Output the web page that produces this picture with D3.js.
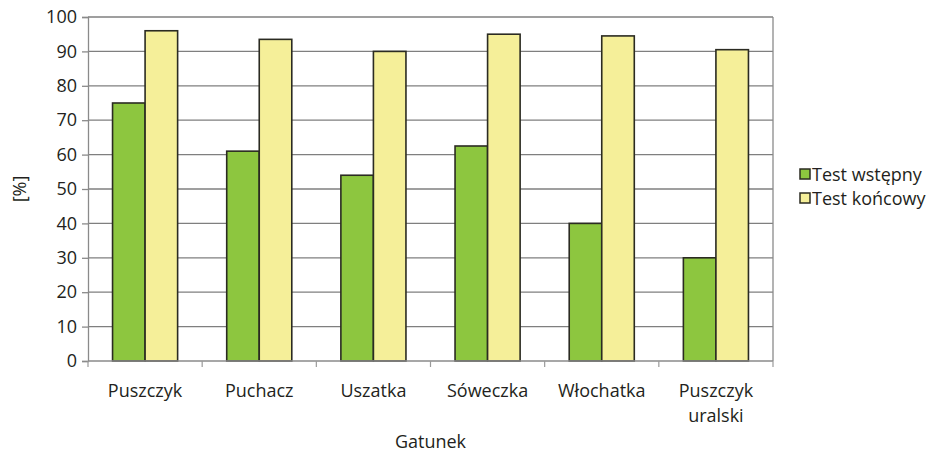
<!DOCTYPE html>
<html>
<head>
<meta charset="utf-8">
<script src="https://cdn.jsdelivr.net/npm/d3@7"></script>
<style>
body { margin: 0; background: #fff; }
text { font-family: "Open Sans", "Noto Sans", sans-serif; fill: #231f20; }
</style>
</head>
<body>
<script>
// species on the x axis
var categories = ["Puszczyk", "Puchacz", "Uszatka", "Sóweczka", "Włochatka", "Puszczyk uralski"];
var seriesNames = ["Test wstępny", "Test końcowy"];
// percent values
var testWstepny = [75, 61, 54, 62.5, 40, 30];
var testKoncowy = [96, 93.5, 90, 95, 94.5, 90.5];
var yTicks = [0, 10, 20, 30, 40, 50, 60, 70, 80, 90, 100];

var colors = ["#8dc63f", "#f5ef99"];
var fs = 18;

var margin = { top: 17, right: 155, bottom: 95, left: 88 },
	width = 928 - margin.left - margin.right,
	height = 456 - margin.top - margin.bottom;

var svg = d3.select("body").append("svg")
	.attr("width", 928)
	.attr("height", 456);

var g = svg.append("g")
	.attr("transform", "translate(" + margin.left + "," + margin.top + ")");

var x0 = d3.scaleBand().domain(categories).range([0, width]).paddingInner(0.43).paddingOuter(0.215);
var x1 = d3.scaleBand().domain(seriesNames).range([0, x0.bandwidth()]);
var y = d3.scaleLinear().domain([0, 100]).range([height, 0]);

// grid lines
g.selectAll(".grid")
	.data(yTicks.filter(function (d) { return d > 0; }))
	.enter().append("line")
	.attr("x1", 0).attr("x2", width)
	.attr("y1", function (d) { return y(d); })
	.attr("y2", function (d) { return y(d); })
	.attr("stroke", "#7f7f7f")
	.attr("stroke-width", 1.3);

// right border
g.append("line")
	.attr("x1", width).attr("x2", width)
	.attr("y1", 0).attr("y2", height)
	.attr("stroke", "#8a8a8a").attr("stroke-width", 1.3);

// bars
var rows = categories.map(function (c, i) { return { cat: c, vals: [testWstepny[i], testKoncowy[i]] }; });
var grp = g.selectAll(".grp")
	.data(rows)
	.enter().append("g")
	.attr("transform", function (d) { return "translate(" + x0(d.cat) + ",0)"; });

grp.selectAll("rect")
	.data(function (d) { return d.vals.map(function (v, j) { return { s: seriesNames[j], v: v, j: j }; }); })
	.enter().append("rect")
	.attr("x", function (d) { return x1(d.s); })
	.attr("y", function (d) { return y(d.v); })
	.attr("width", x1.bandwidth())
	.attr("height", function (d) { return height - y(d.v); })
	.attr("fill", function (d) { return colors[d.j]; })
	.attr("stroke", "#2b2b22")
	.attr("stroke-width", 1.6);

// y axis
var yAxis = g.append("g")
	.call(d3.axisLeft(y).tickValues(yTicks).tickSize(6).tickPadding(5));
yAxis.select(".domain").attr("stroke", "#8a8a8a").attr("stroke-width", 1.3);
yAxis.selectAll(".tick line").attr("stroke", "#8a8a8a").attr("stroke-width", 1.3);
yAxis.selectAll("text").attr("font-size", fs).style("fill", "#231f20")
	.attr("font-family", "'Open Sans', sans-serif");

// x axis: ticks at category boundaries
var xAxisG = g.append("g").attr("transform", "translate(0," + height + ")");
xAxisG.append("line")
	.attr("x1", 0).attr("x2", width)
	.attr("stroke", "#8a8a8a").attr("stroke-width", 1.5);
var step = x0.step();
var start = x0(categories[0]) - step * x0.paddingOuter();
xAxisG.selectAll(".xt")
	.data(d3.range(categories.length + 1))
	.enter().append("line")
	.attr("x1", function (i) { return start + i * step; })
	.attr("x2", function (i) { return start + i * step; })
	.attr("y1", 0).attr("y2", 6)
	.attr("stroke", "#9a9a9a").attr("stroke-width", 1.2);

// category labels
var labels = xAxisG.selectAll(".cl")
	.data(categories)
	.enter().append("text")
	.attr("x", function (d) { return x0(d) + x0.bandwidth() / 2; })
	.attr("y", 36)
	.attr("text-anchor", "middle")
	.attr("font-size", fs);
labels.each(function (d) {
	var words = d.split(" ");
	var t = d3.select(this);
	words.forEach(function (w, k) {
		t.append("tspan")
			.attr("x", x0(d) + x0.bandwidth() / 2)
			.attr("dy", k === 0 ? 0 : 25)
			.text(w);
	});
});

// axis titles
svg.append("text")
	.attr("x", margin.left + width / 2)
	.attr("y", 448)
	.attr("text-anchor", "middle")
	.attr("font-size", fs)
	.text("Gatunek");

svg.append("text")
	.attr("transform", "translate(26," + (margin.top + height / 2) + ") rotate(-90)")
	.attr("text-anchor", "middle")
	.attr("font-size", fs)
	.text("[%]");

// legend
var legend = svg.append("g").attr("transform", "translate(800,174)");
seriesNames.forEach(function (s, i) {
	var row = legend.append("g").attr("transform", "translate(0," + (i * 24) + ")");
	row.append("rect")
		.attr("x", 0).attr("y", -5)
		.attr("width", 10).attr("height", 10)
		.attr("fill", colors[i])
		.attr("stroke", "#2b2b22").attr("stroke-width", 1.5);
	row.append("text")
		.attr("x", 12).attr("y", 6.5)
		.attr("font-size", fs)
		.text(s);
});
</script>
</body>
</html>
